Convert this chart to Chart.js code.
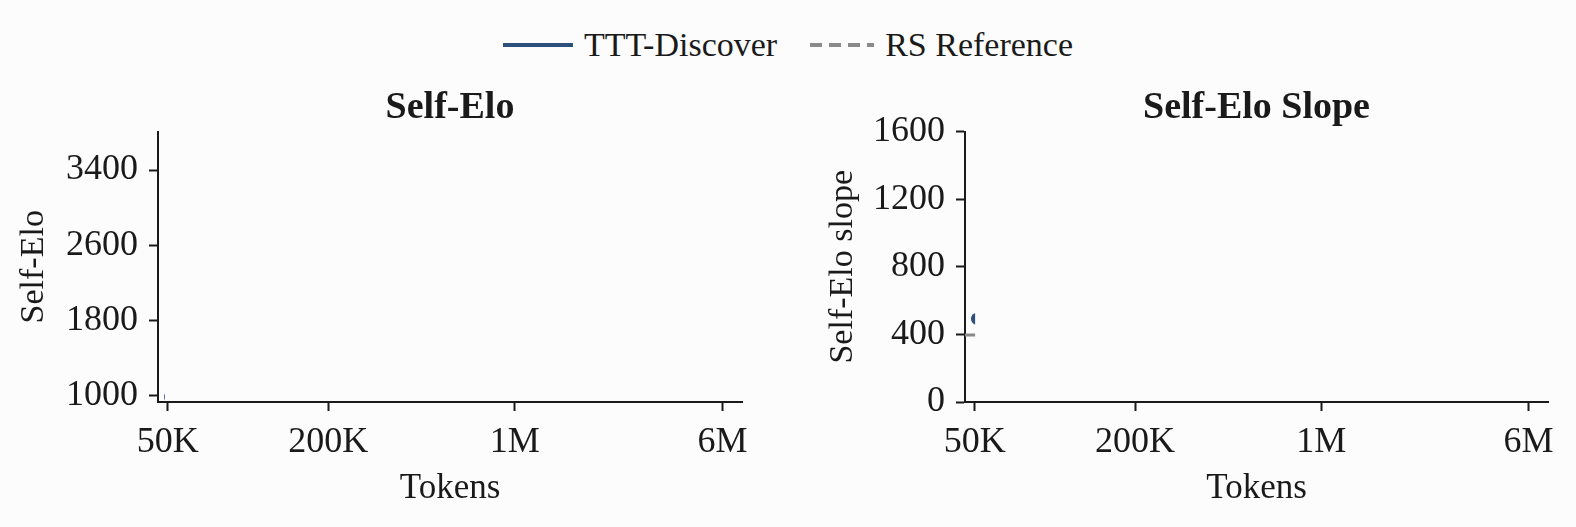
<!DOCTYPE html>
<html>
<head>
<meta charset="utf-8">
<script src="https://cdn.jsdelivr.net/npm/chart.js@4"></script>
<style>
  html, body { margin:0; padding:0; background:#fcfcfc; }
  #wrap { position:relative; width:1576px; height:527px; background:#fcfcfc; overflow:hidden; }
  .panel { position:absolute; top:0; width:788px; height:527px; }
  #legend { position:absolute; top:26px; left:0; width:1576px; display:flex; justify-content:center; align-items:center;
            font-family:"Liberation Serif", serif; font-size:34px; color:#1a1a1a; }
  .item { display:flex; align-items:center; }
  .swatch { width:70px; height:3.5px; margin-right:11px; }
  .solid { background:#2c4f7c; }
  .dashed { width:64px; background:repeating-linear-gradient(90deg,#8a8a8a 0 12px, transparent 12px 19px); }
</style>
</head>
<body>
<div id="wrap">
  <div id="legend">
    <div class="item"><span class="swatch solid"></span><span id="lg1"></span></div>
    <div class="item" style="margin-left:33px"><span class="swatch dashed"></span><span id="lg2"></span></div>
  </div>
  <div class="panel" style="left:0"><canvas id="c1" width="788" height="527"></canvas></div>
  <div class="panel" style="left:788px"><canvas id="c2" width="788" height="527"></canvas></div>
</div>
<script>
// ---- data ----
const seriesNames = ["TTT-Discover", "RS Reference"];
const panelTitles = ["Self-Elo", "Self-Elo Slope"];
const yAxisTitles = ["Self-Elo", "Self-Elo slope"];
const xAxisTitle = "Tokens";
const xTickValues = [50000, 200000, 1000000, 6000000];
const xTickLabels = ["50K", "200K", "1M", "6M"];
const xRange = [46000, 7100000];
const eloTicks = [1000, 1800, 2600, 3400];
const eloTickLabels = ["1000", "1800", "2600", "3400"];
const eloRange = [936, 3809];
const slopeTicks = [0, 400, 800, 1200, 1600];
const slopeTickLabels = ["0", "400", "800", "1200", "1600"];
const slopeRange = [0, 1600];
// TTT-Discover points visible so far (animation frame)
const tttTokens = [51000];
const tttElo = [990];
const tttSlope = [492];
// RS reference slope (horizontal reference)
const rsSlope = 397;
// revealed token extent in this frame
const revealElo = 48800;
const revealSlope = 50200;

document.getElementById('lg1').textContent = seriesNames[0];
document.getElementById('lg2').textContent = seriesNames[1];

const BLUE = '#2c4f7c', GRAY = '#8a8a8a', INK = '#1a1a1a';
const FONT = '"Liberation Serif", serif';

const revealPlugin = {
  id: 'reveal',
  beforeDatasetsDraw(chart, args, opts) {
    const ctx = chart.ctx, a = chart.chartArea;
    const xr = chart.scales.x.getPixelForValue(opts.upTo);
    ctx.save();
    ctx.beginPath();
    ctx.rect(a.left - 20, a.top - 20, xr - (a.left - 20), a.bottom - a.top + 40);
    ctx.clip();
  },
  afterDatasetsDraw(chart) { chart.ctx.restore(); }
};

function makeChart(id, cfg) {
  return new Chart(document.getElementById(id), {
    type: 'line',
    data: { datasets: cfg.datasets },
    plugins: [revealPlugin],
    options: {
      responsive: false,
      animation: false,
      layout: { padding: { left: 0, right: cfg.padRight, top: 0, bottom: 0 } },
      plugins: {
        legend: { display: false },
        tooltip: { enabled: false },
        reveal: { upTo: cfg.reveal },
        title: {
          display: true, text: cfg.title, fullSize: false, color: INK,
          font: { family: FONT, size: 38, weight: 'bold', lineHeight: 1.2 },
          padding: { top: 85.7, bottom: 0.2 }
        }
      },
      scales: {
        x: {
          type: 'logarithmic', min: xRange[0], max: xRange[1],
          afterFit(s) { s.height = 125; },
          afterBuildTicks(s) { s.ticks = xTickValues.map(v => ({ value: v })); },
          ticks: {
            color: INK, font: { family: FONT, size: 36 }, padding: 10, maxRotation: 0, autoSkip: false,
            callback(v) { const i = xTickValues.indexOf(v); return i >= 0 ? xTickLabels[i] : ''; }
          },
          grid: { drawOnChartArea: false, drawTicks: true, tickLength: 9, tickWidth: 2, tickColor: INK },
          border: { display: true, color: INK, width: 2 },
          title: { display: true, text: xAxisTitle, color: INK, font: { family: FONT, size: 35 }, padding: { top: 0, bottom: 17 } }
        },
        y: {
          min: cfg.yRange[0], max: cfg.yRange[1],
          afterFit(s) { s.width = cfg.yWidth; },
          afterBuildTicks(s) { s.ticks = cfg.yTicks.map(v => ({ value: v })); },
          ticks: {
            color: INK, font: { family: FONT, size: 36 }, padding: 11,
            callback(v) { const i = cfg.yTicks.indexOf(v); return i >= 0 ? cfg.yLabels[i] : ''; }
          },
          grid: { drawOnChartArea: false, drawTicks: true, tickLength: 9, tickWidth: 2, tickColor: INK },
          border: { display: true, color: INK, width: 2 },
          title: { display: true, text: cfg.yTitle, color: INK, font: { family: FONT, size: 34 }, padding: { top: cfg.yTitlePad, bottom: 0 } }
        }
      }
    }
  });
}

makeChart('c1', {
  title: panelTitles[0], yTitle: yAxisTitles[0], yTitlePad: 13.6,
  yRange: eloRange, yTicks: eloTicks, yLabels: eloTickLabels, yWidth: 158, padRight: 46, reveal: revealElo,
  datasets: [{
    label: seriesNames[0],
    data: tttTokens.map((t, i) => ({ x: t, y: tttElo[i] })),
    borderColor: BLUE, backgroundColor: BLUE, borderWidth: 3,
    pointRadius: 6, pointBackgroundColor: BLUE, pointBorderWidth: 0, clip: false
  }]
});

makeChart('c2', {
  title: panelTitles[1], yTitle: yAxisTitles[1], yTitlePad: 34.6,
  yRange: slopeRange, yTicks: slopeTicks, yLabels: slopeTickLabels, yWidth: 177, padRight: 28, reveal: revealSlope,
  datasets: [{
    label: seriesNames[1],
    data: xRange.map(t => ({ x: t, y: rsSlope })),
    borderColor: GRAY, borderWidth: 3, borderDash: [12, 6], pointRadius: 0, clip: false
  }, {
    label: seriesNames[0],
    data: tttTokens.map((t, i) => ({ x: t, y: tttSlope[i] })),
    borderColor: BLUE, backgroundColor: BLUE, borderWidth: 3,
    pointRadius: 6, pointBackgroundColor: BLUE, pointBorderWidth: 0, clip: false
  }]
});
</script>
</body>
</html>
